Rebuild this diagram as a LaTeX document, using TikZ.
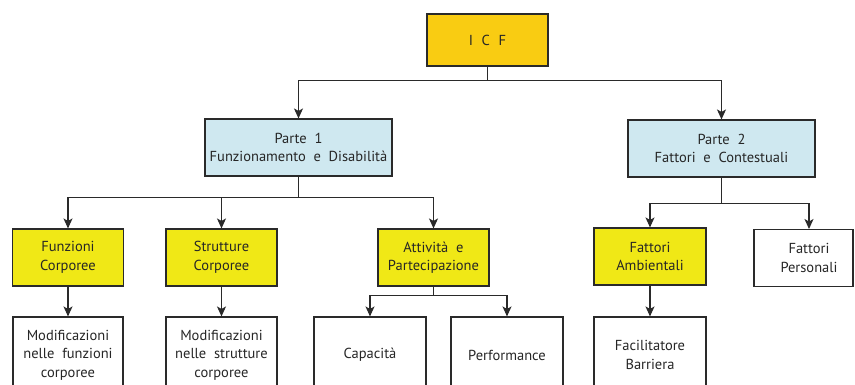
\documentclass[tikz,border=0pt]{standalone}
\usepackage{fontspec}
\setmainfont{PT Sans}
\usetikzlibrary{arrows.meta,calc}
\definecolor{icfcol}{HTML}{F9CC12}
\definecolor{bluecol}{HTML}{CFE8F0}
\definecolor{yelcol}{HTML}{F0E816}
\definecolor{linecol}{HTML}{2A2A2A}
\tikzset{
  box/.style={draw=linecol, line width=1.1pt, align=center, inner sep=0pt,
    font=\fontsize{14.5}{18.5}\selectfont, text=black!85},
  conn/.style={draw=linecol, line width=1.1pt, -{Stealth[length=10pt,width=9pt,inset=2.5pt]}}
}
\begin{document}
\begin{tikzpicture}[x=1pt,y=-1pt]
\useasboundingbox (0,0) rectangle (855,385);
\clip (0,0) rectangle (855,385);
% level 0
\node[box, fill=icfcol, minimum width=121pt, minimum height=52pt] (icf) at (487.5,40) {I\hspace{0.6em}C\hspace{0.6em}F};
% level 1
\node[box, fill=bluecol, minimum width=187pt, minimum height=57pt] (p1) at (298.5,147.5) {Parte\ \ 1\\Funzionamento\ \ e\ \ Disabilità};
\node[box, fill=bluecol, minimum width=187pt, minimum height=57pt] (p2) at (721.5,148.5) {Parte\ \ 2\\Fattori\ \ e\ \ Contestuali};
% level 2
\node[box, fill=yelcol, minimum width=111pt, minimum height=57pt] (fc) at (68,257.5) {Funzioni\\Corporee};
\node[box, fill=yelcol, minimum width=111pt, minimum height=57pt] (sc) at (221.5,257.5) {Strutture\\Corporee};
\node[box, fill=yelcol, minimum width=111pt, minimum height=57pt] (ap) at (433.5,257.5) {Attività\ \ e\\Partecipazione};
\node[box, fill=yelcol, minimum width=112pt, minimum height=57pt] (fa) at (650,256.5) {Fattori\\Ambientali};
\node[box, fill=white, minimum width=99pt, minimum height=57pt] (fp) at (803.5,258) {\hspace*{11pt}Fattori\\\hspace*{11pt}Personali};
\coordinate (fpin) at (809,229);
% level 3
\node[box, fill=white, minimum width=110pt, minimum height=76pt] (m1) at (68,355) {Modificazioni\\nelle\ \ funzioni\\corporee};
\node[box, fill=white, minimum width=111pt, minimum height=76pt] (m2) at (221.5,355) {Modificazioni\\nelle\ \ strutture\\corporee};
\node[box, fill=white, minimum width=112pt, minimum height=76pt] (cap) at (370,355) {Capacità};
\node[box, fill=white, minimum width=112pt, minimum height=76pt] (perf) at (507,355) {Performance};
\node[box, fill=white, minimum width=112pt, minimum height=76pt] (fb) at (650,355) {Facilitatore\\Barriera};
% connectors
\draw[conn] (icf.south) -- ++(0,14) -| (p1.north);
\draw[conn] (icf.south) -- ++(0,14) -| (p2.north);
\draw[conn] (p1.south) -- ++(0,21) -| (fc.north);
\draw[conn] (p1.south) -- ++(0,21) -| (sc.north);
\draw[conn] (p1.south) -- ++(0,21) -| (ap.north);
\draw[conn] (p2.south) -- ++(0,26) -| (fa.north);
\draw[conn] (p2.south) -- ++(0,26) -| (fpin);
\draw[conn] (fc.south) -- (m1.north);
\draw[conn] (sc.south) -- (m2.north);
\draw[conn] (ap.south) -- ++(0,9) -| (cap.north);
\draw[conn] (ap.south) -- ++(0,9) -| (perf.north);
\draw[conn] (fa.south) -- (fb.north);
\end{tikzpicture}
\end{document}
